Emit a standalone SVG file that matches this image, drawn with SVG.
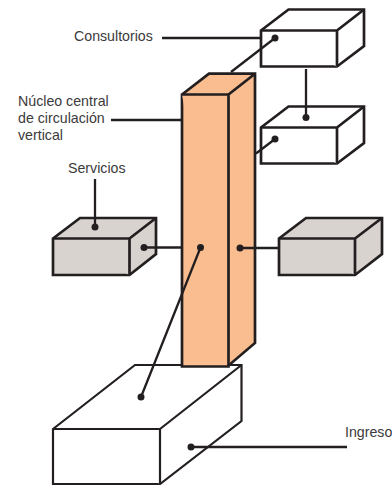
<svg xmlns="http://www.w3.org/2000/svg" width="392" height="485" viewBox="0 0 392 485">
<style>
.box{stroke:#231f20;stroke-width:2.7;stroke-linejoin:miter;fill:#fff}
.g{fill:#d9d3d0}
.o{fill:#f9bd8f}
.thin{stroke-width:2.2}
.c{stroke:#231f20;stroke-width:2.3;fill:none}
.d{fill:#231f20}
text{font-family:"Liberation Sans",Arial,sans-serif;font-size:14.2px;fill:#3c3a3b}
</style>
<rect width="392" height="485" fill="#fff"/>
<g id="ingreso">
<path class="box thin" d="M53 429L135 365H241.500V421L160 484H53Z"/>
<path class="box thin" d="M53 429H160V484M160 429L241.500 365"/>
</g>
<g id="consultorio-1">
<path class="box" d="M261 30.500L288.500 9.500H364V46L337 66.500H261Z"/>
<path class="box" d="M261 30.500H337V66.500M337 30.500L364 9.500"/>
</g>
<g id="consultorio-2">
<path class="box" d="M261 127.500L288.500 106.500H364V143L337 163.500H261Z"/>
<path class="box" d="M261 127.500H337V163.500M337 127.500L364 106.500"/>
</g>
<g id="servicio-1">
<path class="box g" d="M53 238.500L80 218H156V254L129.500 275H53Z"/>
<path class="box g" d="M53 238.500H129.500V275M129.500 238.500L156 218"/>
</g>
<g id="servicio-2">
<path class="box g" d="M279 238.500L306 218H382V254L355 275H279Z"/>
<path class="box g" d="M279 238.500H355V275M355 238.500L382 218"/>
</g>
<g id="connectors-back">
<path class="c" d="M275 38L231 72"/>
</g>
<g id="nucleo">
<path class="box o" d="M182 94.500L209 73.700H255V343L228.500 365.500V366.500H182Z"/>
<path class="box o" d="M182 94.500H228.500V365.500M228.500 94.500L255 73.700"/>
</g>
<g id="connectors">
<path class="c" d="M162 38H261M111 120H182M306 69V117.500M275 139L256 153.500M95 179V227M144 247.500H182M200.500 247.500L141 397M240 248H279M191 447H347"/>
<circle class="d" cx="275" cy="38" r="3.500"/>
<circle class="d" cx="306" cy="117.500" r="3.500"/>
<circle class="d" cx="275" cy="139" r="3.500"/>
<circle class="d" cx="95" cy="227" r="3.500"/>
<circle class="d" cx="144" cy="247.500" r="3.500"/>
<circle class="d" cx="200.500" cy="247.500" r="3.500"/>
<circle class="d" cx="240" cy="248" r="3.500"/>
<circle class="d" cx="141" cy="397" r="3.500"/>
<circle class="d" cx="191" cy="447" r="3.500"/>
</g>
<g id="labels">
<text x="74" y="41">Consultorios</text>
<text x="18" y="106">Núcleo central</text>
<text x="18" y="123">de circulación</text>
<text x="18" y="140">vertical</text>
<text x="68" y="173">Servicios</text>
<text x="345" y="437">Ingreso</text>
</g>
</svg>
